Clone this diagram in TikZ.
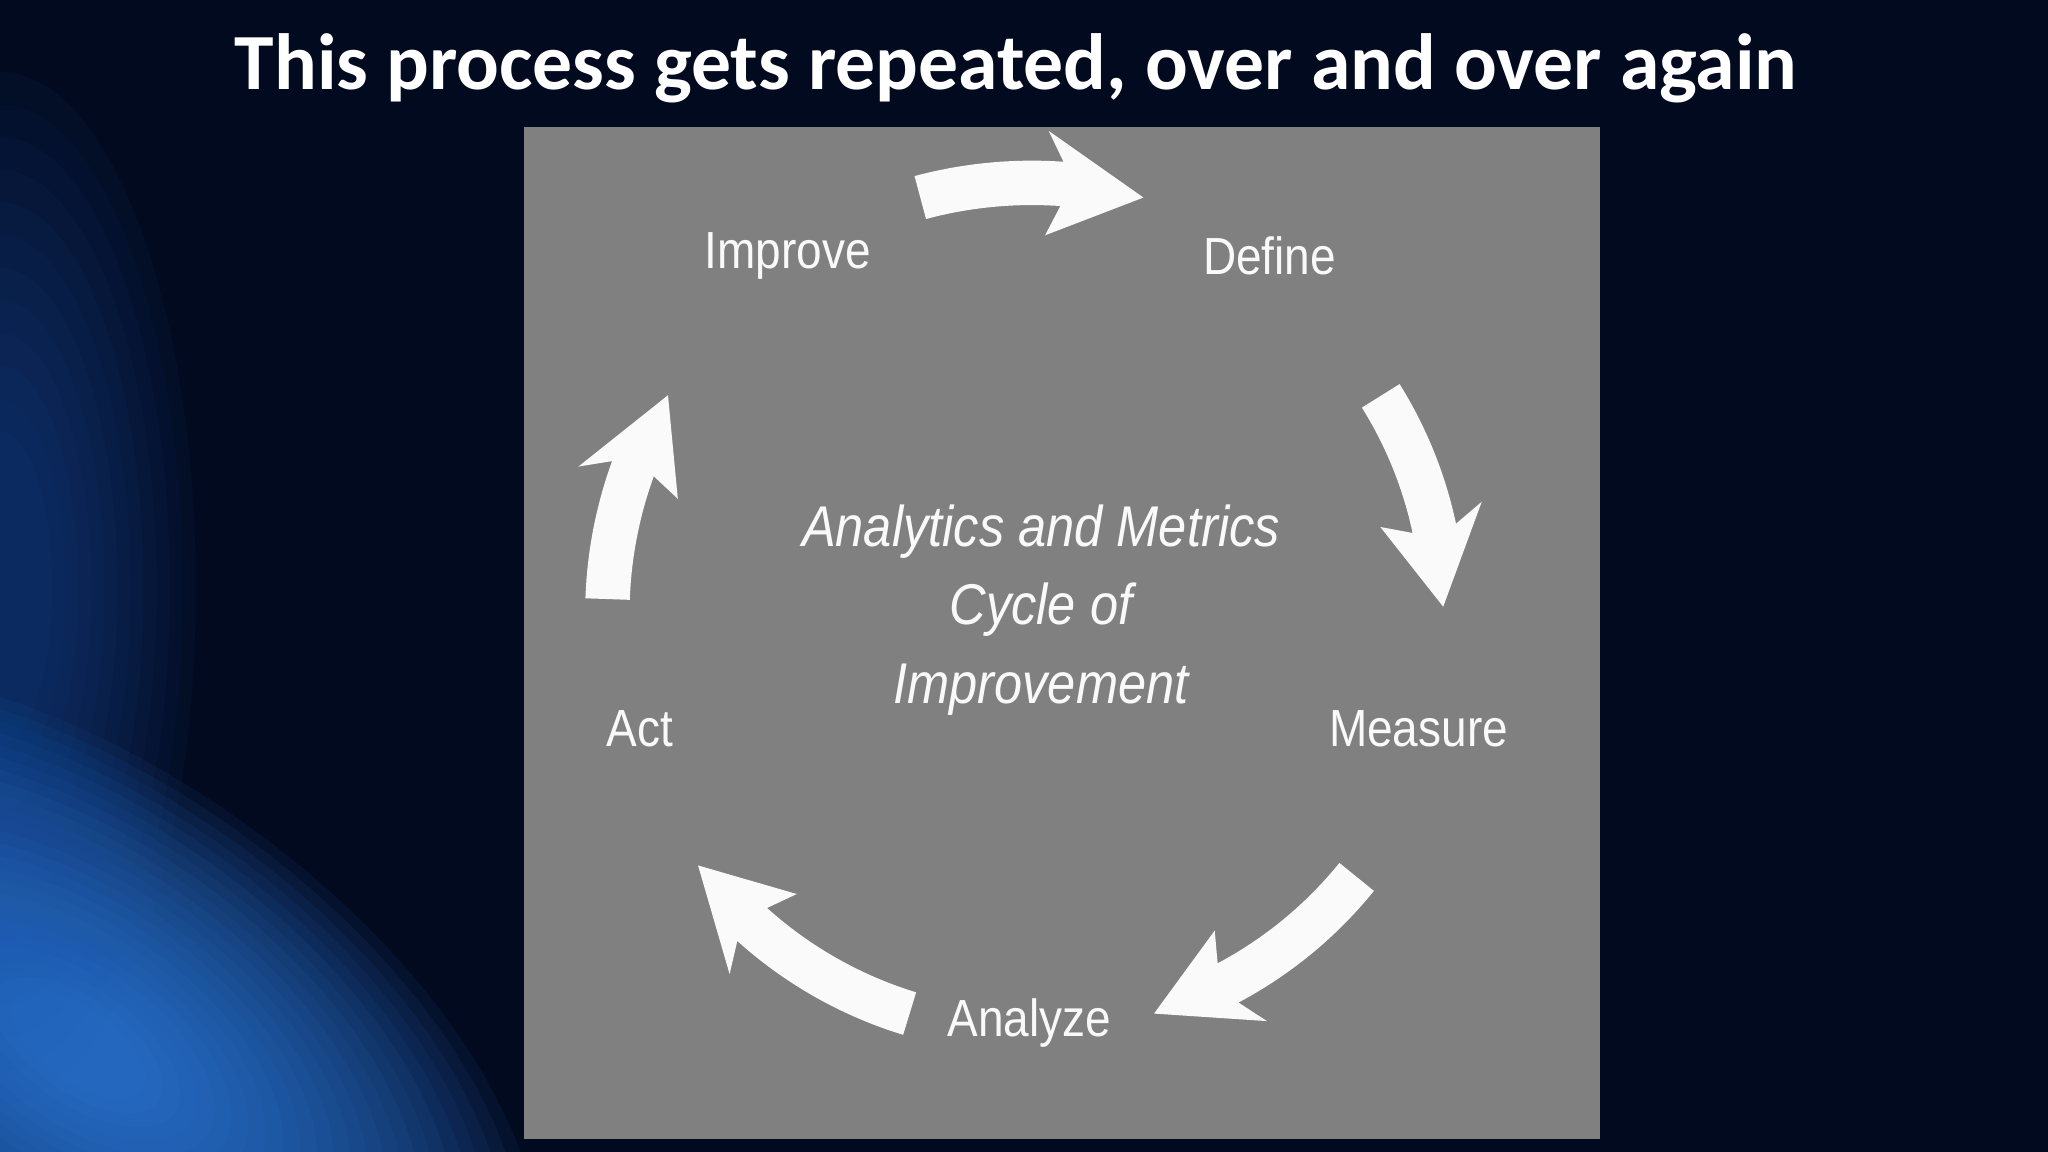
\documentclass[tikz,border=0pt]{standalone}
\usepackage{fontspec}
\setmainfont{Liberation Sans}
\newfontfamily\titlefont{Carlito}
\begin{document}
\begin{tikzpicture}[x=0.5pt,y=-0.5pt,
  lbl/.style={text=white!95!gray,font=\fontsize{20}{24}\selectfont,xscale=0.88,inner sep=0},
  cyc/.style={fill=white!96!gray,draw=none}]
\useasboundingbox (0,0) rectangle (1568,882);
\fill[fill={rgb,255:red,2;green,10;blue,32}] (0,0) rectangle (1568,882);
\begin{scope}
\clip (0,0) rectangle (1568,882);
\foreach \i in {1,...,24}{
  \fill[fill={rgb,255:red,50;green,130;blue,230},fill opacity=0.07,rotate around={-35:(60,800)}] (60,800) ellipse ({420-15*\i} and {220-8*\i});
}
\foreach \i in {1,...,12}{
  \fill[fill={rgb,255:red,30;green,90;blue,180},fill opacity=0.05] (0,450) ellipse ({160-10*\i} and {420-25*\i});
}
\end{scope}
\node[text=white,font=\titlefont\bfseries\fontsize{30.5}{34}\selectfont,inner sep=0] (title) at (778,52) {This process gets repeated, over and over again};
\fill[fill={rgb,255:red,128;green,128;blue,128}] (401,97) rectangle (1225,872);
\begin{scope}[shift={(790,470)},yscale=-1]
\foreach \s/\e/\r in {105/75/330, 32/1/315, -39/-73/320, -107/-143/320, 178/149/325}{
  \pgfmathsetmacro\h{\e+11}
  \fill[cyc] (\s:\r+17) arc[start angle=\s,end angle=\h,radius=\r+17]
    -- (\h+2:\r+40) -- (\e:\r) -- (\h+2:\r-40) -- (\h:\r-17)
    arc[start angle=\h,end angle=\s,radius=\r-17] -- cycle;
}
\end{scope}
\node[lbl] (improve) at (603,196) {Improve};
\node[lbl] (define) at (972,196) {Define};
\node[lbl] (measure) at (1086,558) {Measure};
\node[lbl] (analyze) at (788,783) {Analyze};
\node[lbl] (act) at (490,558) {Act};
\node[lbl,font=\itshape\fontsize{22}{30}\selectfont,align=center] (center) at (797,467) {Analytics and Metrics\\Cycle of\\Improvement};
\end{tikzpicture}
\end{document}
